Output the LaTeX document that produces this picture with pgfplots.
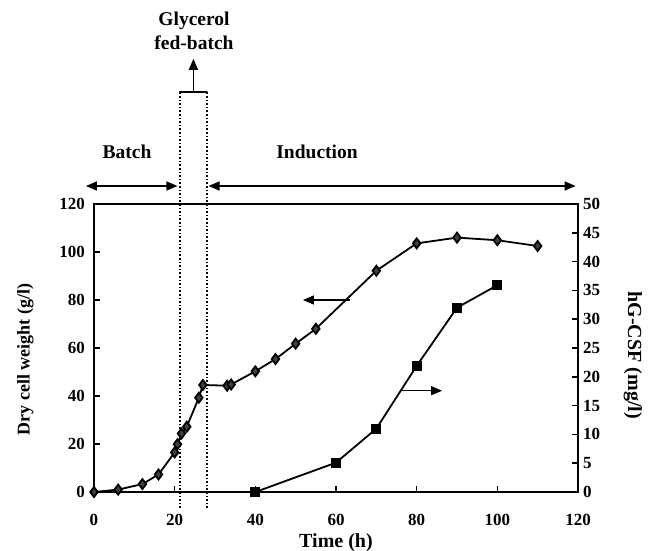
\documentclass[border=0pt]{standalone}
\usepackage{fontspec}
\setmainfont{Liberation Serif}
\usepackage{pgfplots}
\pgfplotsset{compat=1.18}
\usetikzlibrary{arrows.meta}

% dry cell weight (g/l), left axis
\pgfplotstableread{
t dcw
0 0
6 1
12 3.3
16 7.3
20 16.5
20.7 19.9
21.7 24.4
23 27.2
26 39.3
27 44.6
33 44.3
34 44.8
40 50.3
45 55.4
50 61.8
55 68
70 92.2
80 103.6
90 106
100 104.9
110 102.5
}\dcw

% hG-CSF (mg/l), right axis
\pgfplotstableread{
t gcsf
40 0
60 5.1
70 11
80 21.9
90 32
100 35.9
}\gcsf

\begin{document}
\begin{tikzpicture}[x=1pt,y=1pt]
\useasboundingbox (-94,-58) rectangle (558,492);
\pgfplotsset{
  every axis/.append style={
    scale only axis, width=484pt, height=288pt,
    xmin=0, xmax=120,
    tick style={line width=1.6pt, black},
    major tick length=6pt,
    tick align=inside,
    line width=1.8pt,
    clip=false,
    /pgf/number format/assume math mode=true,
    tick label style={font=\fontsize{17}{17}\selectfont\bfseries},
    label style={font=\fontsize{20}{20}\selectfont\bfseries},
  },
}
\begin{axis}[
  ymin=0, ymax=120,
  xtick={0,20,...,120},
  ytick={0,20,...,120},
  xtick pos=bottom, ytick pos=left,
  xticklabel style={yshift=-18pt},
  yticklabel style={xshift=-5pt},
  xlabel={Time (h)},
  ylabel={Dry cell weight (g/l)},
  xlabel style={yshift=0pt},
  ylabel style={at={(ticklabel cs:0.46)}, font=\fontsize{18}{18}\selectfont\bfseries, yshift=18pt},
]
\addplot[black, line width=1.8pt, mark=diamond*, mark size=5pt,
  mark options={solid, fill=black!75}] table[x=t,y=dcw] {\dcw};
% phase markers
\draw[black, line width=1.6pt, dotted] (axis cs:21.3,-6.7) -- (axis cs:21.3,166.7);
\draw[black, line width=1.6pt, dotted] (axis cs:28,-6.7) -- (axis cs:28,166.7);
\draw[black, line width=1.8pt, line cap=round] (axis cs:21.3,166.7) -- (axis cs:28,166.7);
\draw[black, line width=1.4pt, -{Triangle[length=11pt,width=9pt]}] (axis cs:24.65,166.7) -- (axis cs:24.65,180.5);
\node[font=\fontsize{19.5}{19.5}\selectfont\bfseries] at (axis cs:24.8,196.5) {Glycerol};
\node[font=\fontsize{19.5}{19.5}\selectfont\bfseries] at (axis cs:24.8,187.3) {fed-batch};
\draw[black, line width=1.4pt, {Triangle[length=11pt,width=9pt]}-{Triangle[length=11pt,width=9pt]}] (axis cs:-2,127.5) -- (axis cs:20.7,127.5);
\draw[black, line width=1.4pt, {Triangle[length=11pt,width=9pt]}-{Triangle[length=11pt,width=9pt]}] (axis cs:28.4,127.5) -- (axis cs:119.4,127.5);
\node[font=\fontsize{19.5}{19.5}\selectfont\bfseries] at (axis cs:8.2,141.7) {Batch};
\node[font=\fontsize{19.5}{19.5}\selectfont\bfseries] at (axis cs:55.3,141.7) {Induction};
% series pointers
\draw[black, line width=1.4pt, -{Triangle[length=11pt,width=9pt]}] (axis cs:63.4,80) -- (axis cs:51.8,80);
\draw[black, line width=1.4pt, -{Triangle[length=11pt,width=9pt]}] (axis cs:75.9,42.2) -- (axis cs:86.3,42.2);
\end{axis}
\begin{axis}[
  ymin=0, ymax=50,
  ytick={0,5,...,50},
  axis x line=none,
  axis y line*=right,
  yticklabel style={xshift=1pt},
  ylabel={hG-CSF (mg/l)},
  ylabel style={at={(ticklabel cs:0.475)}, rotate=180, yshift=16pt},
]
\addplot[black, line width=1.8pt, mark=square*, mark size=4pt,
  mark options={solid, fill=black}] table[x=t,y=gcsf] {\gcsf};
\end{axis}
\end{tikzpicture}
\end{document}
